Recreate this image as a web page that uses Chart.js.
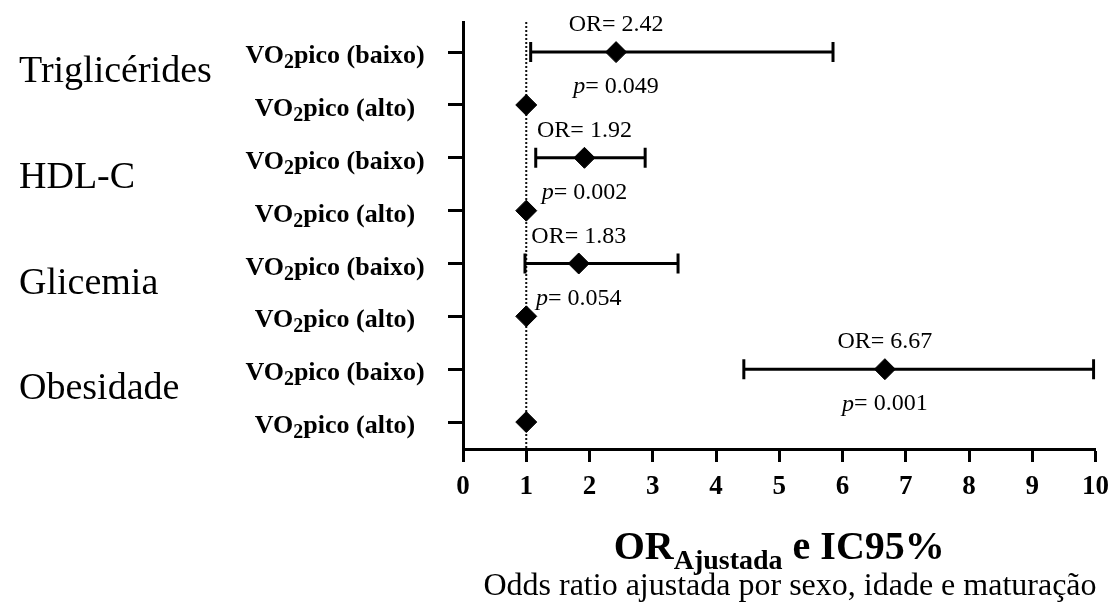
<!DOCTYPE html>
<html>
<head>
<meta charset="utf-8">
<script src="https://cdn.jsdelivr.net/npm/chart.js@4.4.0/dist/chart.umd.min.js"></script>
<style>
html,body{margin:0;padding:0;background:#fff;}
canvas{display:block;}
</style>
</head>
<body>
<canvas id="c" width="1118" height="610"></canvas>
<script>
// ---- data ----
const groups = ['Triglicérides', 'HDL-C', 'Glicemia', 'Obesidade'];
const rowLabels = ['VO₂pico (baixo)', 'VO₂pico (alto)', 'VO₂pico (baixo)', 'VO₂pico (alto)',
                   'VO₂pico (baixo)', 'VO₂pico (alto)', 'VO₂pico (baixo)', 'VO₂pico (alto)'];
const rows = [1, 2, 3, 4, 5, 6, 7, 8];
const orValues = [2.42, 1, 1.92, 1, 1.83, 1, 6.67, 1];
const ciLow  = [1.07, null, 1.15, null, 0.98, null, 4.44, null];
const ciHigh = [5.85, null, 2.88, null, 3.40, null, 9.97, null];
const orText = ['OR= 2.42', 'OR= 1.92', 'OR= 1.83', 'OR= 6.67'];
const pText = ['0.049', '0.002', '0.054', '0.001'];
const xTicks = [0, 1, 2, 3, 4, 5, 6, 7, 8, 9, 10];
const refValue = 1;
const yRange = [0.43, 8.51];
const xTitleMain = 'OR', xTitleSub = 'Ajustada', xTitleRest = ' e IC95%';
const caption = 'Odds ratio ajustada por sexo, idade e maturação';

const SERIF = '"Liberation Serif", "Times New Roman", "DejaVu Serif", serif';
Chart.defaults.font.family = SERIF;
Chart.defaults.color = '#000';

// ---- datasets ----
const datasets = [];
datasets.push({
  label: 'ref',
  data: [{x: refValue, y: yRange[0]}, {x: refValue, y: yRange[1]}],
  showLine: true, borderColor: '#111', borderWidth: 2, borderDash: [2, 2],
  pointRadius: 0, order: 3
});
rows.forEach((r, i) => {
  if (ciLow[i] == null) return;
  datasets.push({
    label: 'ci' + i,
    data: [{x: ciLow[i], y: r}, {x: ciHigh[i], y: r}],
    showLine: true, borderColor: '#000', borderWidth: 3,
    pointStyle: 'line', rotation: 90, pointRadius: 10,
    pointBorderWidth: 3, pointBorderColor: '#000', order: 2
  });
});
datasets.push({
  label: 'OR',
  data: rows.map((r, i) => ({x: orValues[i], y: r})),
  pointStyle: 'rectRot', pointRadius: 10.5,
  backgroundColor: '#000', borderColor: '#000', borderWidth: 1, order: 1
});

function drawSubText(ctx, text, cx, baseY, mainFont, subFont, subDrop, align) {
  const parts = text.split('₂');
  ctx.font = mainFont;
  const w0 = ctx.measureText(parts[0]).width;
  const w2 = parts.length > 1 ? ctx.measureText(parts[1]).width : 0;
  ctx.font = subFont;
  const ws = parts.length > 1 ? ctx.measureText('2').width : 0;
  const total = w0 + ws + w2;
  let x = align === 'left' ? cx : cx - total / 2;
  ctx.textAlign = 'left';
  ctx.textBaseline = 'alphabetic';
  ctx.font = mainFont;
  ctx.fillText(parts[0], x, baseY);
  x += w0;
  if (parts.length > 1) {
    ctx.font = subFont;
    ctx.fillText('2', x, baseY + subDrop);
    x += ws;
    ctx.font = mainFont;
    ctx.fillText(parts[1], x, baseY);
  }
}

const textPlugin = {
  id: 'texts',
  afterDraw(chart) {
    const {ctx, chartArea} = chart;
    const xs = chart.scales.x, ys = chart.scales.y;
    ctx.save();
    ctx.fillStyle = '#000';
    // row labels
    rowLabels.forEach((lab, i) => {
      const py = ys.getPixelForValue(rows[i]);
      drawSubText(ctx, lab, chartArea.left - 128, py + 11,
        'bold 26px ' + SERIF, 'bold 20px ' + SERIF, 5, 'center');
    });
    // group labels
    ctx.font = '38px ' + SERIF;
    ctx.textAlign = 'left';
    ctx.textBaseline = 'middle';
    groups.forEach((g, k) => {
      const py = ys.getPixelForValue(rows[k * 2] + 0.38);
      ctx.fillText(g, 19, py);
    });
    // OR and p annotations
    groups.forEach((g, k) => {
      const i = k * 2;
      const px = xs.getPixelForValue(orValues[i]);
      const py = ys.getPixelForValue(rows[i]);
      ctx.font = '24px ' + SERIF;
      ctx.textAlign = 'center';
      ctx.textBaseline = 'middle';
      ctx.fillText(orText[k], px, py - 27);
      ctx.font = 'italic 24px ' + SERIF;
      const wp = ctx.measureText('p').width;
      ctx.font = '24px ' + SERIF;
      const rest = '= ' + pText[k];
      const wr = ctx.measureText(rest).width;
      let sx = px - (wp + wr) / 2;
      ctx.textAlign = 'left';
      ctx.font = 'italic 24px ' + SERIF;
      ctx.fillText('p', sx, py + 35);
      ctx.font = '24px ' + SERIF;
      ctx.fillText(rest, sx + wp, py + 35);
    });
    // x axis title
    const mainF = 'bold 40px ' + SERIF, subF = 'bold 28px ' + SERIF;
    ctx.font = mainF;
    const a = ctx.measureText(xTitleMain).width;
    const c = ctx.measureText(xTitleRest).width;
    ctx.font = subF;
    const b = ctx.measureText(xTitleSub).width;
    const cx = (chartArea.left + chartArea.right) / 2;
    let tx = cx - (a + b + c) / 2;
    const base = 559;
    ctx.textAlign = 'left';
    ctx.textBaseline = 'alphabetic';
    ctx.font = mainF; ctx.fillText(xTitleMain, tx, base); tx += a;
    ctx.font = subF; ctx.fillText(xTitleSub, tx, base + 10); tx += b;
    ctx.font = mainF; ctx.fillText(xTitleRest, tx, base);
    // caption
    ctx.font = '32px ' + SERIF;
    ctx.textAlign = 'center';
    ctx.fillText(caption, 790, 595);
    ctx.restore();
  }
};

new Chart(document.getElementById('c'), {
  type: 'scatter',
  data: {datasets},
  options: {
    responsive: false,
    animation: false,
    devicePixelRatio: 1,
    layout: {padding: {top: 22, right: 22, left: 0, bottom: 0}},
    plugins: {legend: {display: false}, tooltip: {enabled: false}},
    scales: {
      x: {
        type: 'linear', min: xTicks[0], max: xTicks[xTicks.length - 1],
        afterBuildTicks(s) { s.ticks = xTicks.map(v => ({value: v})); },
        afterFit(s) { s.height = 161; },
        ticks: {font: {size: 27, weight: 'bold', family: SERIF}, color: '#000', padding: 9, autoSkip: false, maxRotation: 0},
        grid: {drawOnChartArea: false, drawTicks: true, tickLength: 13, tickWidth: 3, tickColor: '#000'},
        border: {display: true, width: 3, color: '#000'}
      },
      y: {
        type: 'linear', reverse: true, min: yRange[0], max: yRange[1],
        afterBuildTicks(s) { s.ticks = rows.map(v => ({value: v})); },
        afterFit(s) { s.width = 463; },
        ticks: {callback: () => '', autoSkip: false},
        grid: {drawOnChartArea: false, drawTicks: true, tickLength: 15, tickWidth: 3, tickColor: '#000'},
        border: {display: true, width: 3, color: '#000'}
      }
    }
  },
  plugins: [textPlugin]
});
</script>
</body>
</html>
